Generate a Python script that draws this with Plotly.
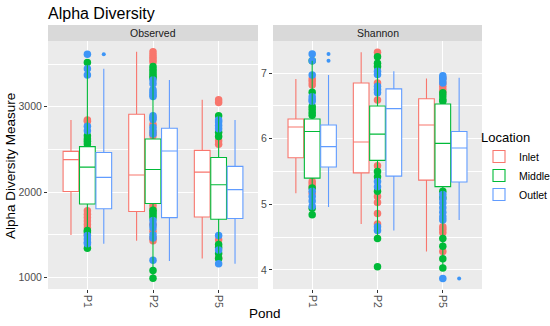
import plotly.graph_objects as go

# ---------------- data ----------------
ponds = ["P1", "P2", "P5"]
locations = ["Inlet", "Middle", "Outlet"]
facets = ["Observed", "Shannon"]

# box statistics per location, one value per pond (P1, P2, P5)
obs_lowerfence = {"Inlet": [1496, 1428, 1220], "Middle": [1340, 988, 1220], "Outlet": [1394, 1192, 1160]}
obs_q1 = {"Inlet": [2005, 1771, 1707], "Middle": [1860, 1866, 1680], "Outlet": [1803, 1700, 1690]}
obs_median = {"Inlet": [2380, 2200, 2233], "Middle": [2292, 2264, 2085], "Outlet": [2172, 2480, 2028]}
obs_q3 = {"Inlet": [2476, 2912, 2488], "Middle": [2532, 2622, 2405], "Outlet": [2463, 2748, 2300]}
obs_upperfence = {"Inlet": [2844, 3645, 3080], "Middle": [3519, 3470, 2895], "Outlet": [3446, 3313, 2844]}

sha_lowerfence = {"Inlet": [5.17, 4.70, 4.28], "Middle": [4.84, 4.48, 4.03], "Outlet": [4.96, 4.60, 4.76]}
sha_q1 = {"Inlet": [5.71, 5.48, 5.37], "Middle": [5.40, 5.67, 5.27], "Outlet": [5.57, 5.43, 5.34]}
sha_median = {"Inlet": [6.18, 5.95, 6.21], "Middle": [6.11, 6.07, 5.93], "Outlet": [5.88, 6.46, 5.86]}
sha_q3 = {"Inlet": [6.30, 6.85, 6.61], "Middle": [6.30, 6.50, 6.53], "Outlet": [6.21, 6.76, 6.11]}
sha_upperfence = {"Inlet": [6.91, 7.32, 6.92], "Middle": [7.19, 7.25, 6.70], "Outlet": [6.97, 7.03, 6.93]}

# box outliers (Outlet boxes)
obs_outliers = {"Outlet": [[3614], [], []]}
sha_outliers = {"Outlet": [[7.29, 7.19], [], [3.87]]}

# individual samples (drawn at pond centre, coloured by location)
obs_points = {
    "Inlet": [[2844, 2828, 1780, 1740, 1700, 1660, 1620, 1580, 1500],
              [3645, 3610, 3580, 3550, 3525, 2790, 2700, 2660, 1842, 1800, 1620, 1540, 1460, 1428],
              [3080, 3050, 2600, 2560, 1440, 1225]],
    "Middle": [[3519, 2660, 2622, 2594, 2563, 1550, 1530, 1340],
               [3470, 3440, 3410, 3380, 3350, 3336, 1785, 1760, 1730, 1700, 1080, 988],
               [2895, 2700, 2650, 1384, 1350, 1280, 1221]],
    "Outlet": [[3614, 3446, 3372, 2770, 2719, 1490, 1450, 1410, 1394],
               [3313, 3270, 3200, 3170, 3140, 3120, 2895, 2870, 2850, 2760, 2720, 2680,
                1667, 1620, 1580, 1500, 1460, 1200],
               [2844, 2820, 2780, 2740, 1490, 1320, 1160]],
}
sha_points = {
    "Inlet": [[6.91, 6.87, 6.82, 5.35, 5.31, 5.27, 5.17],
              [7.32, 6.85, 6.59, 5.59, 5.12, 5.03, 4.86, 4.70],
              [6.92, 6.85, 6.80, 6.75, 6.70, 4.66, 4.62, 4.57, 4.28]],
    "Middle": [[7.19, 6.71, 6.49, 6.45, 6.40, 6.36, 5.25, 4.94, 4.84],
               [7.25, 7.15, 7.10, 5.50, 5.42, 5.20, 4.48, 4.05],
               [6.70, 6.65, 6.60, 6.57, 5.20, 5.10, 4.48, 4.36, 4.17, 4.03]],
    "Outlet": [[7.29, 7.19, 6.97, 6.64, 6.60, 6.57, 5.20, 5.12, 5.05, 4.97],
               [7.03, 6.98, 6.80, 6.75, 6.70, 5.35, 5.27, 4.66, 4.60],
               [6.96, 6.93, 6.90, 6.85, 5.15, 5.08, 5.02, 4.95, 4.88, 4.81, 4.76, 3.87]],
}

obs_ticks = [1000, 2000, 3000]
obs_minor = [1500, 2500, 3500]
sha_ticks = [4, 5, 6, 7]
sha_minor = [4.5, 5.5, 6.5]

# ---------------- style ----------------
line_colors = {"Inlet": "#F8766D", "Middle": "#00BA38", "Outlet": "#619CFF"}
point_colors = {"Inlet": "#F8766D", "Middle": "#00BA38", "Outlet": "#3D95F7"}
FONT = "Liberation Sans, Arial, Helvetica, sans-serif"
INVISIBLE = dict(width=0, color="rgba(0,0,0,0)")

fig = go.Figure()


def add_facet(xa, ya, lf, q1, med, q3, uf, pts, outl, show):
    # transparent copy of the Inlet boxes first so the dodge order is Inlet, Middle, Outlet
    fig.add_trace(go.Box(
        x=ponds, q1=q1["Inlet"], median=med["Inlet"], q3=q3["Inlet"],
        lowerfence=lf["Inlet"], upperfence=uf["Inlet"], xaxis=xa, yaxis=ya,
        offsetgroup="Inlet", fillcolor="rgba(0,0,0,0)", line=INVISIBLE,
        whiskerwidth=0, boxpoints=False, showlegend=False, hoverinfo="skip", name="Inlet",
    ))
    # samples (underneath the white boxes), at the pond centre
    for loc in locations:
        xs, ys = [], []
        for p, vals in zip(ponds, pts[loc]):
            xs += [p] * len(vals)
            ys += vals
        fig.add_trace(go.Box(
            x=xs, y=ys, xaxis=xa, yaxis=ya, offsetgroup="Middle",
            boxpoints="all", jitter=0, pointpos=0,
            fillcolor="rgba(0,0,0,0)", line=INVISIBLE,
            marker=dict(color=point_colors[loc], size=7.5, line=dict(width=0)),
            showlegend=False, hoverinfo="y", name=loc,
        ))
    for loc in locations:
        fig.add_trace(go.Box(
            x=ponds, q1=q1[loc], median=med[loc], q3=q3[loc],
            lowerfence=lf[loc], upperfence=uf[loc],
            xaxis=xa, yaxis=ya, offsetgroup=loc, name=loc, legendgroup=loc,
            showlegend=show, fillcolor="white",
            line=dict(color=line_colors[loc], width=1.1), whiskerwidth=0,
            boxpoints=False,
        ))
    for loc, lists in outl.items():
        xs, ys = [], []
        for p, vals in zip(ponds, lists):
            xs += [p] * len(vals)
            ys += vals
        fig.add_trace(go.Box(
            x=xs, y=ys, xaxis=xa, yaxis=ya, offsetgroup=loc,
            boxpoints="all", jitter=0, pointpos=0,
            fillcolor="rgba(0,0,0,0)", line=INVISIBLE,
            marker=dict(color=point_colors[loc], size=4, line=dict(width=0)),
            showlegend=False, hoverinfo="y", name=loc,
        ))


add_facet("x", "y", obs_lowerfence, obs_q1, obs_median, obs_q3, obs_upperfence,
          obs_points, obs_outliers, True)
add_facet("x2", "y2", sha_lowerfence, sha_q1, sha_median, sha_q3, sha_upperfence,
          sha_points, sha_outliers, False)

W, H = 550, 326
ml, mr, mt, mb = 48, 68, 25, 37
pw, ph = W - ml - mr, H - mt - mb
left_dom = [0, (258 - ml) / pw]
right_dom = [(273 - ml) / pw, 1]
ytop = (289 - 41) / ph

xcommon = dict(type="category", categoryorder="array", categoryarray=ponds,
               range=[-0.6, 2.6], showgrid=True, gridcolor="white", gridwidth=1.1,
               ticks="outside", ticklen=3, tickcolor="#333333", tickwidth=1,
               tickangle=90, tickfont=dict(size=10.5, color="#4D4D4D", family=FONT),
               showline=False, zeroline=False)
ycommon = dict(showgrid=True, gridcolor="white", gridwidth=1.1,
               ticks="outside", ticklen=3, tickcolor="#333333", tickwidth=1,
               tickfont=dict(size=10.5, color="#4D4D4D", family=FONT),
               showline=False, zeroline=False, domain=[0, ytop])

fig.update_layout(
    width=W, height=H, margin=dict(l=ml, r=mr, t=mt, b=mb, autoexpand=False),
    paper_bgcolor="white", plot_bgcolor="#EBEBEB",
    boxmode="group", boxgap=0.25, boxgroupgap=0.04,
    font=dict(family=FONT, color="black"),
    xaxis=dict(domain=left_dom, anchor="y", **xcommon),
    xaxis2=dict(domain=right_dom, anchor="y2", **xcommon),
    yaxis=dict(anchor="x", range=[863, 3770], tickvals=obs_ticks,
               minor=dict(tickvals=obs_minor, showgrid=True, gridcolor="white", gridwidth=0.55, ticks=""),
               **ycommon),
    yaxis2=dict(anchor="x2", range=[3.71, 7.49], tickvals=sha_ticks,
                minor=dict(tickvals=sha_minor, showgrid=True, gridcolor="white", gridwidth=0.55, ticks=""),
                **ycommon),
    title=dict(text="Alpha Diversity", x=0, xref="paper", xanchor="left",
               y=1 - 13 / H, yref="container", yanchor="middle",
               font=dict(size=16, color="black", family=FONT)),
    legend=dict(title=dict(text="Location", font=dict(size=13, family=FONT)),
                x=(479 - ml) / pw, xanchor="left", y=0.462, yanchor="middle",
                font=dict(size=10.5, family=FONT), tracegroupgap=0,
                bgcolor="rgba(0,0,0,0)"),
    showlegend=True,
)

# facet strips
for name, xd in zip(facets, ["x domain", "x2 domain"]):
    fig.add_shape(type="rect", xref=xd, yref="paper", x0=0, x1=1, y0=ytop, y1=1,
                  fillcolor="#D9D9D9", line=dict(width=0), layer="below")
    fig.add_annotation(text=name, xref=xd, yref="paper", x=0.5, y=(ytop + 1) / 2,
                       showarrow=False, font=dict(size=10.5, color="#1A1A1A", family=FONT),
                       xanchor="center", yanchor="middle")

# axis titles
fig.add_annotation(text="Pond", xref="paper", yref="paper", x=0.5, y=-(313 - 289) / ph,
                   showarrow=False, xanchor="center", yanchor="middle",
                   font=dict(size=13.5, color="black", family=FONT))
fig.add_annotation(text="Alpha Diversity Measure", xref="paper", yref="paper",
                   x=(10 - ml) / pw, y=(289 - 166) / ph, textangle=-90,
                   showarrow=False, xanchor="center", yanchor="middle",
                   font=dict(size=13.5, color="black", family=FONT))

fig.write_html("out.html", config={"displayModeBar": False},
               post_script="document.body.style.margin='0';")
